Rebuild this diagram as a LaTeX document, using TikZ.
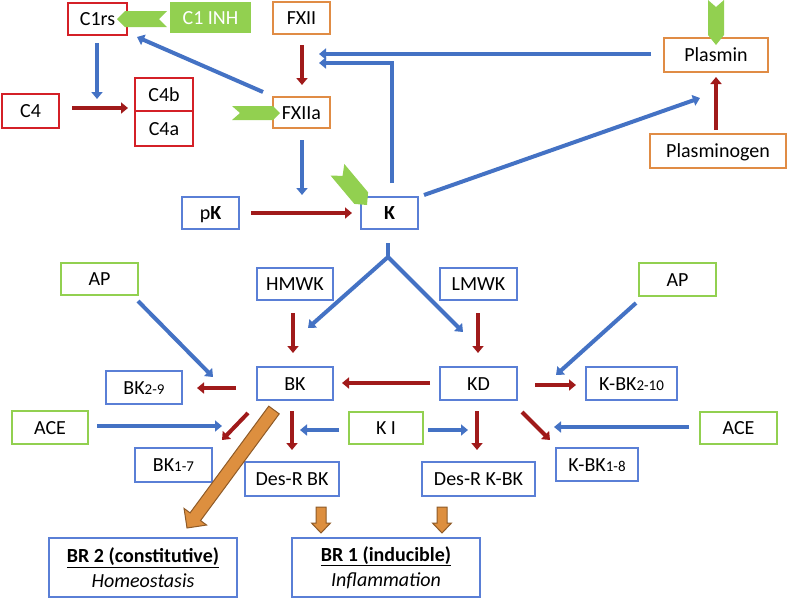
\documentclass[tikz,border=0pt]{standalone}
\usepackage{fontspec}
\setmainfont{Carlito}
\usetikzlibrary{arrows.meta}
\definecolor{ablue}{HTML}{4472C4}
\definecolor{bblue}{HTML}{5A7FD6}
\definecolor{dred}{HTML}{A01A1A}
\definecolor{rbox}{HTML}{D42027}
\definecolor{obox}{HTML}{E08C45}
\definecolor{gbox}{HTML}{92D050}
\definecolor{ofill}{HTML}{DD8F3F}
\definecolor{obrd}{HTML}{8E5A27}
\newcommand\subx[1]{{\fontsize{15}{15}\selectfont #1}}
% tip x, tip y, angle, length, width, tip depth, notch depth
\newcommand\chevron[7]{\fill[gbox,shift={(#1,#2)},rotate=#3] (0,0) -- (-#6,-#5/2) -- (-#4,-#5/2) -- (-#4+#7,0) -- (-#4,#5/2) -- (-#6,#5/2) -- cycle;}
% tail x, tail y, angle, length, shaft half width, head half width, head length
\newcommand\fatarrow[7]{\filldraw[fatstyle,shift={(#1,#2)},rotate=#3] (0,-#5) -- (#4-#7,-#5) -- (#4-#7,-#6) -- (#4,0) -- (#4-#7,#6) -- (#4-#7,#5) -- (0,#5) -- cycle;}
\begin{document}
\begin{tikzpicture}[x=1pt,y=-1pt,
  font=\fontsize{20}{24}\selectfont,
  bx/.style={draw, line width=2.2pt, fill=white, inner sep=0pt, text height=13pt, text depth=0pt},
  sz/.style 2 args={minimum width=#1pt, minimum height=#2pt},
  rb/.style={bx, draw=rbox},
  ob/.style={bx, draw=obox},
  bb/.style={bx, draw=bblue},
  gb/.style={bx, draw=gbox},
  brbox/.style={draw=bblue, line width=2.2pt, fill=white, inner sep=0pt, align=center, font=\fontsize{20}{24}\selectfont},
  barr/.style={ablue, line width=4pt, -{Triangle[length=7pt,width=11pt]}},
  rarr/.style={dred, line width=4pt, -{Triangle[length=7pt,width=11pt]}},
  bline/.style={ablue, line width=4pt},
  fatstyle/.style={fill=ofill, draw=obrd, line width=1pt, line join=miter}
]
\useasboundingbox (0,0) rectangle (787,598);

% ---------- nodes ----------
\node[rb, sz={59}{32}] (c1rs) at (97.5,19) {C1rs};
\node[bx, draw=none, fill=gbox, text=white, sz={81}{31}] (c1inh) at (210.5,17.5) {C1 INH};
\node[ob, sz={57}{32}] (fxii) at (301.5,18) {FXII};
\node[rb, sz={57}{34}] (c4) at (30.5,111) {C4};
\node[rb, sz={58}{33}] (c4b) at (164,94.5) {C4b};
\node[rb, sz={58}{35}] (c4a) at (164,128.5) {C4a};
\node[ob, sz={57}{31}] (fxiia) at (301.5,112.5) {FXIIa};
\node[ob, sz={104}{34}] (plasmin) at (716,55) {Plasmin};
\node[ob, sz={136}{34}] (plasminogen) at (718,151) {Plasminogen};
\node[bb, sz={57}{32}] (pk) at (210.5,213) {p\textbf{K}};
\node[bb, sz={57}{32}] (k) at (389.5,213) {\textbf{K}};
\node[gb, sz={77}{32}] (apl) at (99.5,279) {AP};
\node[bb, sz={76}{32}] (hmwk) at (295,284) {HMWK};
\node[bb, sz={77}{32}] (lmwk) at (478.5,284) {LMWK};
\node[gb, sz={77}{33}] (apr) at (677.5,279.5) {AP};
\node[bb, sz={76}{33}] (bk29) at (144,387.5) {BK\subx{2-9}};
\node[bb, sz={76}{33}] (bk) at (295,383.5) {BK};
\node[bb, sz={77}{33}] (kd) at (478.5,383.5) {KD};
\node[bb, sz={91}{33}] (kbk210) at (631.5,383.5) {K-BK\subx{2-10}};
\node[gb, sz={76}{33}] (acel) at (50,427.5) {ACE};
\node[gb, sz={74}{32}] (ki) at (386,428) {K I};
\node[gb, sz={77}{32}] (acer) at (738.5,428) {ACE};
\node[bb, sz={77}{34}] (bk17) at (173.5,465) {BK\subx{1-7}};
\node[bb, sz={82}{33}] (kbk18) at (597,464.5) {K-BK\subx{1-8}};
\node[bb, sz={94}{34}] (desrbk) at (292,479) {Des-R BK};
\node[bb, sz={113}{34}] (desrkbk) at (478.5,479) {Des-R K-BK};
\node[brbox, sz={188}{59}] (br2) at (143,567.5) {\underline{\textbf{BR 2 (constitutive)}}\\[1pt]\textit{Homeostasis}};
\node[brbox, sz={188}{59}] (br1) at (386,567.5) {\underline{\textbf{BR 1 (inducible)}}\\[1pt]\textit{Inflammation}};

% ---------- connector end points ----------
\coordinate (c1d1) at (97,43);   \coordinate (c1d2) at (97,99);
\coordinate (c4r1) at (72,108);  \coordinate (c4r2) at (128,108);
\coordinate (fa1) at (263,92);   \coordinate (fa2) at (137,37);
\coordinate (fx1) at (302,45);   \coordinate (fx2) at (302,85);
\coordinate (fk1) at (302,140);  \coordinate (fk2) at (302,195);
\coordinate (pk1) at (251,213);  \coordinate (pk2) at (352,213);
\coordinate (ku1) at (392,183);  \coordinate (ku2) at (392,63);  \coordinate (ku3) at (319,63);
\coordinate (pl1) at (651,54);   \coordinate (pl2) at (319,54);
\coordinate (kp1) at (424,195);  \coordinate (kp2) at (700,98);
\coordinate (pg1) at (716,130);  \coordinate (pg2) at (716,77);
\coordinate (kf0) at (388,243);  \coordinate (kfj) at (388,257);
\coordinate (kfl) at (308,328);  \coordinate (kfr) at (463,332);
\coordinate (al1) at (138,301);  \coordinate (al2) at (213,377);
\coordinate (hm1) at (293,313);  \coordinate (hm2) at (293,353);
\coordinate (b29a) at (236,388); \coordinate (b29b) at (197,388);
\coordinate (kdb1) at (430,383); \coordinate (kdb2) at (342,383);
\coordinate (lm1) at (478,313);  \coordinate (lm2) at (478,353);
\coordinate (kd1) at (535,385);  \coordinate (kd2) at (576,385);
\coordinate (ar1) at (636,303);  \coordinate (ar2) at (556,375);
\coordinate (acl1) at (97,426);  \coordinate (acl2) at (222,426);
\coordinate (b17a) at (248,413); \coordinate (b17b) at (222,440);
\coordinate (bd1) at (292,411);  \coordinate (bd2) at (292,450);
\coordinate (kil1) at (339,430); \coordinate (kil2) at (300,430);
\coordinate (kir1) at (428,430); \coordinate (kir2) at (468,430);
\coordinate (kdd1) at (477,411); \coordinate (kdd2) at (477,450);
\coordinate (k18a) at (522,412); \coordinate (k18b) at (550,440);
\coordinate (acr1) at (689,427); \coordinate (acr2) at (554,427);

% ---------- connectors ----------
\draw[barr] (c1d1) -- (c1d2);
\draw[rarr] (c4r1) -- (c4r2);
\draw[barr] (fa1) -- (fa2);
\draw[rarr] (fx1) -- (fx2);
\draw[barr] (fk1) -- (fk2);
\draw[rarr] (pk1) -- (pk2);
\draw[barr, line join=miter] (ku1) -- (ku2) -- (ku3);
\draw[barr] (pl1) -- (pl2);
\draw[barr] (kp1) -- (kp2);
\draw[rarr] (pg1) -- (pg2);
\draw[bline] (kf0) -- (kfj);
\draw[barr] (kfj) -- (kfl);
\draw[barr] (kfj) -- (kfr);
\draw[barr] (al1) -- (al2);
\draw[rarr] (hm1) -- (hm2);
\draw[rarr] (b29a) -- (b29b);
\draw[rarr] (kdb1) -- (kdb2);
\draw[rarr] (lm1) -- (lm2);
\draw[rarr] (kd1) -- (kd2);
\draw[barr] (ar1) -- (ar2);
\draw[barr] (acl1) -- (acl2);
\draw[rarr] (b17a) -- (b17b);
\draw[rarr] (bd1) -- (bd2);
\draw[barr] (kil1) -- (kil2);
\draw[barr] (kir1) -- (kir2);
\draw[rarr] (kdd1) -- (kdd2);
\draw[rarr] (k18a) -- (k18b);
\draw[barr] (acr1) -- (acr2);

% ---------- fat orange arrows ----------
\fatarrow{274}{410}{-126.4}{146.6}{6.5}{14}{14}
\fatarrow{321}{507}{-90}{26}{5}{9.5}{10}
\fatarrow{442}{507}{-90}{26}{5}{9.5}{10}

% ---------- green chevrons ----------
\chevron{117}{19}{180}{50}{16}{8}{8}
\chevron{280}{113}{0}{48}{14}{7}{8}
\chevron{367}{205}{-50}{46}{18}{9}{8}
\chevron{716}{45}{-90}{45}{16}{10}{7}
\end{tikzpicture}
\end{document}
